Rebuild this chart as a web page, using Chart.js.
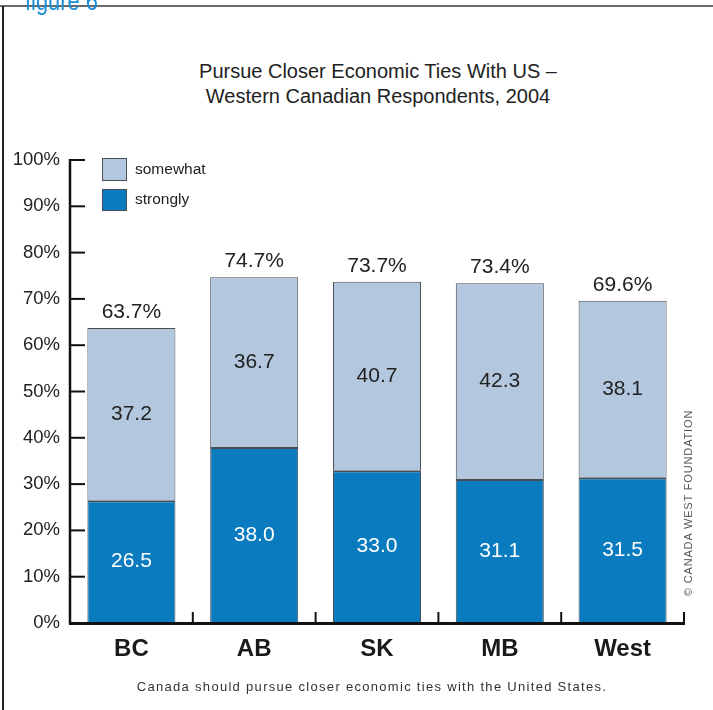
<!DOCTYPE html>
<html>
<head>
<meta charset="utf-8">
<title>Pursue Closer Economic Ties With US</title>
<script src="https://cdn.jsdelivr.net/npm/chart.js@4/dist/chart.umd.min.js"></script>
<style>
  html, body { margin: 0; padding: 0; background: #fff; }
  body { width: 713px; height: 710px; position: relative; overflow: hidden;
         font-family: "Liberation Sans", Arial, sans-serif; }
  #chart { position: absolute; left: 0; top: 0; }
  .rule-top { position: absolute; left: 0; top: 5px; width: 713px; height: 2px; background: #6a6a6a; }
  .rule-left { position: absolute; left: 2px; top: 6px; width: 2px; height: 704px; background: #222; }
  .fig { position: absolute; left: 25px; top: -12px; font-size: 26px; line-height: 26px;
         color: #1b8ed6; z-index: 2; white-space: nowrap;
         transform: scaleX(0.84); transform-origin: left top; }
  .title { position: absolute; left: 0; width: 756px; top: 59px; text-align: center;
           font-size: 20px; line-height: 25px; color: #222; }
  .caption { position: absolute; left: 72px; width: 600px; top: 679px; text-align: center;
             font-size: 13px; line-height: 16px; letter-spacing: 1.3px; color: #333; white-space: nowrap; }
  .copy { position: absolute; left: 588px; top: 496px; width: 200px; height: 14px; line-height: 14px;
          text-align: center; font-size: 11px; letter-spacing: 0.85px; color: #555;
          transform: rotate(-90deg); white-space: nowrap; }
</style>
</head>
<body>
<div class="rule-top"></div>
<div class="rule-left"></div>
<div class="fig">figure 6</div>
<div class="title">Pursue Closer Economic Ties With US –<br>Western Canadian Respondents, 2004</div>
<canvas id="chart" width="713" height="710"></canvas>
<div class="caption">Canada should pursue closer economic ties with the United States.</div>
<div class="copy">© CANADA WEST FOUNDATION</div>

<script>
// Survey share (%) by region
const categories = ['BC', 'AB', 'SK', 'MB', 'West'];
const strongly = [26.5, 38.0, 33.0, 31.1, 31.5];
const somewhat = [37.2, 36.7, 40.7, 42.3, 38.1];
const seriesNames = ['strongly', 'somewhat'];
const yTickStep = 10;

const DARK = '#0a7bbf';
const LIGHT = '#b3c7de';
const EDGE = '#4a4e54';
const FONT = '"Liberation Sans", Arial, sans-serif';

// Axis lines with ticks pointing into the plot area
const axisLines = {
  id: 'axisLines',
  afterDatasetsDraw(chart) {
    const { ctx, chartArea, scales: { x, y } } = chart;
    ctx.save();
    ctx.strokeStyle = '#111';
    // vertical axis
    ctx.lineWidth = 2.5;
    ctx.beginPath();
    ctx.moveTo(chartArea.left, chartArea.top - 1);
    ctx.lineTo(chartArea.left, chartArea.bottom + 1);
    ctx.stroke();
    ctx.lineWidth = 2;
    y.ticks.forEach(t => {
      const py = y.getPixelForValue(t.value);
      ctx.beginPath();
      ctx.moveTo(chartArea.left, py);
      ctx.lineTo(chartArea.left + 15, py);
      ctx.stroke();
    });
    // horizontal axis
    ctx.lineWidth = 3;
    ctx.beginPath();
    ctx.moveTo(chartArea.left - 1, chartArea.bottom + 0.5);
    ctx.lineTo(chartArea.right + 1, chartArea.bottom + 0.5);
    ctx.stroke();
    ctx.lineWidth = 2;
    const half = (x.getPixelForValue(1) - x.getPixelForValue(0)) / 2;
    categories.forEach((c, i) => {
      const px = x.getPixelForValue(i) + half;
      ctx.beginPath();
      ctx.moveTo(px, chartArea.bottom);
      ctx.lineTo(px, chartArea.bottom - 11);
      ctx.stroke();
    });
    ctx.restore();
  }
};

// Segment values inside the bars and totals above them
const valueLabels = {
  id: 'valueLabels',
  afterDatasetsDraw(chart) {
    const ctx = chart.ctx;
    ctx.save();
    ctx.textAlign = 'center';
    ctx.textBaseline = 'middle';
    ctx.font = '21px ' + FONT;
    chart.data.datasets.forEach((ds, di) => {
      chart.getDatasetMeta(di).data.forEach((bar, i) => {
        ctx.fillStyle = di === 0 ? '#ffffff' : '#222222';
        ctx.fillText(ds.data[i].toFixed(1), bar.x, (bar.y + bar.base) / 2);
      });
    });
    const topMeta = chart.getDatasetMeta(chart.data.datasets.length - 1);
    ctx.fillStyle = '#222222';
    topMeta.data.forEach((bar, i) => {
      const total = strongly[i] + somewhat[i];
      ctx.fillText(total.toFixed(1) + '%', bar.x, bar.y - 16);
    });
    ctx.restore();
  }
};

// Legend boxes inside the plot's upper-left corner
const cornerLegend = {
  id: 'cornerLegend',
  afterDraw(chart) {
    const ctx = chart.ctx;
    const items = [
      { label: 'somewhat', color: LIGHT, top: 158, h: 23 },
      { label: 'strongly', color: DARK, top: 189, h: 22 }
    ];
    ctx.save();
    ctx.font = '15.5px ' + FONT;
    ctx.textBaseline = 'middle';
    ctx.textAlign = 'left';
    items.forEach(it => {
      ctx.fillStyle = it.color;
      ctx.fillRect(102, it.top, 25, it.h);
      ctx.strokeStyle = EDGE;
      ctx.lineWidth = 1;
      ctx.strokeRect(102.5, it.top + 0.5, 24, it.h - 1);
      ctx.fillStyle = '#222';
      ctx.fillText(it.label, 135, it.top + it.h / 2);
    });
    ctx.restore();
  }
};

new Chart(document.getElementById('chart'), {
  type: 'bar',
  data: {
    labels: categories,
    datasets: [
      { label: seriesNames[0], data: strongly, backgroundColor: DARK,
        borderWidth: { top: 2, left: 1, right: 1, bottom: 0 } },
      { label: seriesNames[1], data: somewhat, backgroundColor: LIGHT,
        borderWidth: { top: 1, left: 1, right: 1, bottom: 0 } }
    ]
  },
  options: {
    responsive: false,
    animation: false,
    devicePixelRatio: 1,
    layout: { padding: { top: 160, right: 29, bottom: 0, left: 0 } },
    datasets: {
      bar: {
        borderColor: EDGE,
        borderSkipped: false,
        barPercentage: 0.717,
        categoryPercentage: 1
      }
    },
    plugins: { legend: { display: false }, tooltip: { enabled: false }, title: { display: false } },
    scales: {
      x: {
        stacked: true,
        grid: { display: false, drawTicks: false },
        border: { display: false },
        ticks: { color: '#1a1a1a', padding: 12, font: { family: FONT, size: 24, weight: 'bold' } },
        afterFit(s) { s.height = 87; }
      },
      y: {
        stacked: true,
        min: 0,
        max: 100,
        grid: { display: false, drawTicks: false },
        border: { display: false },
        ticks: {
          stepSize: yTickStep,
          color: '#222',
          padding: 10,
          font: { family: FONT, size: 18.5 },
          callback: v => v + '%'
        },
        afterFit(s) { s.width = 70; }
      }
    }
  },
  plugins: [axisLines, valueLabels, cornerLegend]
});
</script>
</body>
</html>
